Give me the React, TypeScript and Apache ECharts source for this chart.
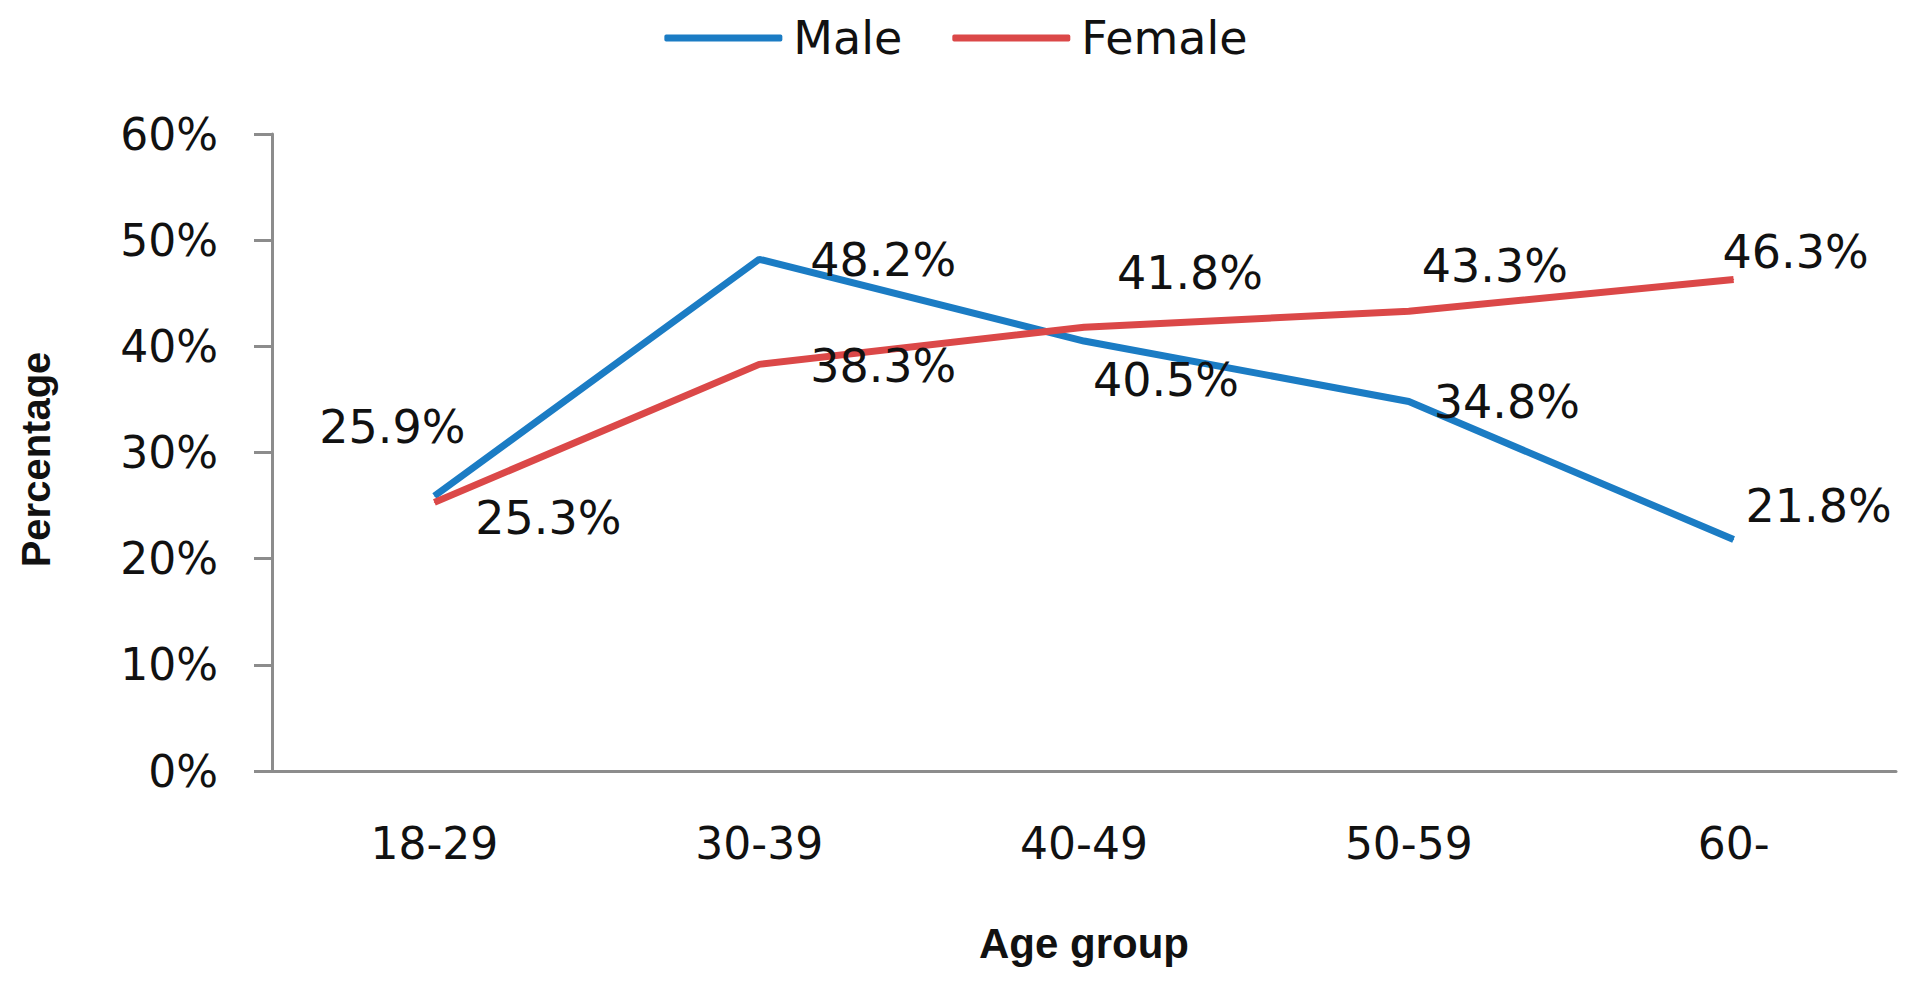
import React, { useEffect, useRef } from "react";
import * as echarts from "echarts";

const categories = ["18-29", "30-39", "40-49", "50-59", "60-"];
const maleValues = [25.9, 48.2, 40.5, 34.8, 21.8];
const femaleValues = [25.3, 38.3, 41.8, 43.3, 46.3];
const yTicks = [0, 10, 20, 30, 40, 50, 60];

// label offsets (layout only)
const maleOffsets = [[-42, -69], [124, 1], [82, 39], [98, 0], [85, -34]];
const femaleOffsets = [[114, 16], [124, 2], [106, -54], [86, -45], [62, -27]];

const BLUE = "#1B7CC4";
const RED = "#DB4848";
const AXIS = "#8C8C8C";
const FONT = "DejaVu Sans";

function buildData(values: number[], offsets: number[][]) {
  return values.map((v, i) => ({
    value: v,
    label: { offset: offsets[i] },
  }));
}

export default function App() {
  const ref = useRef<HTMLDivElement>(null);
  useEffect(() => {
    if (!ref.current) return;
    const chart = echarts.init(ref.current, undefined, { renderer: "svg" });
    const labelCfg = {
      show: true,
      position: "inside",
      align: "center",
      verticalAlign: "middle",
      fontFamily: FONT,
      fontSize: 46,
      color: "#111",
      formatter: (p: any) => p.value.toFixed(1) + "%",
    };
    chart.setOption({
      animation: false,
      backgroundColor: "#fff",
      legend: {
        top: 2,
        left: "center",
        itemWidth: 118,
        itemHeight: 7,
        itemGap: 50,
        icon: "roundRect",
        textStyle: { fontFamily: FONT, fontSize: 46, color: "#111", padding: [0, 0, 0, 6] },
        data: [
          { name: "Male", itemStyle: { color: BLUE } },
          { name: "Female", itemStyle: { color: RED } },
        ],
      },
      grid: { left: 263, right: 8, top: 126, bottom: 206 },
      xAxis: {
        type: "category",
        data: categories,
        boundaryGap: true,
        name: "Age group",
        nameLocation: "middle",
        nameGap: 151,
        nameTextStyle: { fontFamily: "Liberation Sans", fontWeight: "bold", fontSize: 42, color: "#111" },
        axisLine: { lineStyle: { color: AXIS, width: 3 } },
        axisTick: { show: false },
        axisLabel: { fontFamily: FONT, fontSize: 44, color: "#111", margin: 50 },
      },
      yAxis: {
        type: "value",
        min: 0,
        max: 60,
        interval: 10,
        name: "Percentage",
        nameLocation: "middle",
        nameGap: 216,
        nameRotate: 90,
        nameTextStyle: {
          fontFamily: "Liberation Sans",
          fontWeight: "bold",
          fontSize: 40,
          color: "#111",
          padding: [0, 14, 0, 0],
        },
        axisLine: { show: true, lineStyle: { color: AXIS, width: 3 } },
        axisTick: { show: true, length: 18, lineStyle: { color: AXIS, width: 3 } },
        splitLine: { show: false },
        axisLabel: {
          fontFamily: FONT,
          fontSize: 44,
          color: "#111",
          margin: 54,
          formatter: (v: number) => (yTicks.includes(v) ? v + "%" : ""),
        },
      },
      series: [
        {
          name: "Male",
          type: "line",
          data: buildData(maleValues, maleOffsets),
          symbol: "circle",
          symbolSize: 1,
          showSymbol: true,
          itemStyle: { color: BLUE },
          lineStyle: { color: BLUE, width: 7 },
          label: labelCfg,
        },
        {
          name: "Female",
          type: "line",
          data: buildData(femaleValues, femaleOffsets),
          symbol: "circle",
          symbolSize: 1,
          showSymbol: true,
          itemStyle: { color: RED },
          lineStyle: { color: RED, width: 7 },
          label: labelCfg,
        },
      ],
    });
    return () => chart.dispose();
  }, []);
  return <div ref={ref} style={{ width: 1896, height: 969 }} />;
}
